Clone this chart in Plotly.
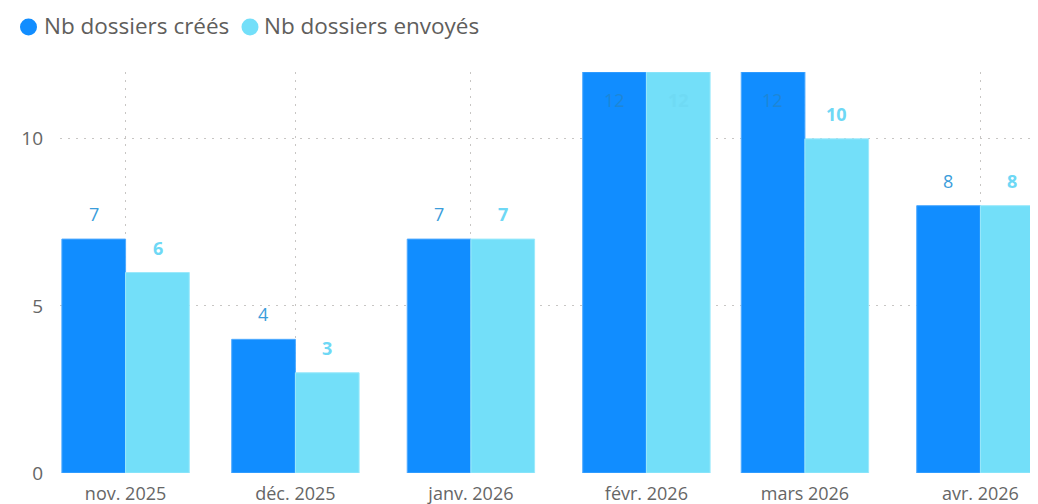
import plotly.graph_objects as go

# donnees
mois = ["2025-11-01", "2025-12-01", "2026-01-01", "2026-02-01", "2026-03-01", "2026-04-01"]
mois_labels = ["nov. 2025", "déc. 2025", "janv. 2026", "févr. 2026", "mars 2026", "avr. 2026"]
crees = [7, 4, 7, 12, 12, 8]
envoyes = [6, 3, 7, 12, 10, 8]
series = ["Nb dossiers créés", "Nb dossiers envoyés"]

BLEU = "#118DFF"
CYAN = "#73DFF9"
Y_MAX = 12
DAY_MS = 86400000
W = 11.25 * DAY_MS  # largeur d'une barre

FONT = "Segoe UI, Open Sans, sans-serif"
GRID = dict(showgrid=True, gridcolor="#C8C6C4", griddash="2px,6px", gridwidth=1)

# zone de trace en pixels (l, t, largeur, hauteur)
L, T, PW, PH = 52, 64, 986, 401


def paper_x(px):
    return (px - L) / PW


def paper_y(py):
    return (T + PH - py) / PH


fig = go.Figure()

fig.add_trace(go.Bar(
    x=mois, y=crees, name=series[0],
    marker=dict(color=BLEU, line=dict(color="#4FAAFF", width=1)),
    width=W, offset=-W, showlegend=False, hoverinfo="skip",
))
fig.add_trace(go.Bar(
    x=mois, y=envoyes, name=series[1],
    marker=dict(color=CYAN, line=dict(color="#9BE9FB", width=1)),
    width=W, offset=0, showlegend=False, hoverinfo="skip",
))

# etiquettes de donnees
annots = []
for d, v in zip(mois, crees):
    inside = v >= Y_MAX
    annots.append(dict(
        x=d, y=v, xref="x", yref="y", text=str(v), showarrow=False,
        xshift=-32, yshift=-28 if inside else 25,
        font=dict(family=FONT, size=18, color="#1E86D6" if inside else "#3B9DDB"),
    ))
for d, v in zip(mois, envoyes):
    inside = v >= Y_MAX
    annots.append(dict(
        x=d, y=v, xref="x", yref="y", text=f"<b>{v}</b>", showarrow=False,
        xshift=32, yshift=-28 if inside else 25,
        font=dict(family=FONT, size=18, color="#6FDAF4" if inside else "#6ED8F5"),
    ))

# legende facon Power BI (pastille ronde + texte)
shapes = []
for nom, col, cx, tx in [(series[0], BLEU, 20.5, 34), (series[1], CYAN, 242, 254)]:
    shapes.append(dict(
        type="circle", xref="paper", yref="paper",
        xsizemode="pixel", ysizemode="pixel",
        xanchor=paper_x(cx), yanchor=paper_y(19),
        x0=-8.5, x1=8.5, y0=-8.5, y1=8.5,
        fillcolor=col, line=dict(width=0),
    ))
    annots.append(dict(
        x=paper_x(tx), y=paper_y(17), xref="paper", yref="paper",
        xanchor="left", yanchor="middle", text=nom, showarrow=False,
        font=dict(family=FONT, size=22.5, color="#605E5C"),
    ))

fig.update_layout(
    width=1038, height=504,
    margin=dict(l=L, r=0, t=T, b=504 - T - PH, autoexpand=False),
    paper_bgcolor="white", plot_bgcolor="white",
    barmode="group",
    showlegend=False,
    font=dict(family=FONT, color="#666666"),
    annotations=annots,
    shapes=shapes,
    xaxis=dict(
        type="date",
        range=["2025-10-20 10:00", "2026-04-12 14:00"],
        tickmode="array", tickvals=mois, ticktext=mois_labels,
        tickfont=dict(family=FONT, size=18, color="#666666"),
        showline=False, zeroline=False, ticks="",
        ticklabelstandoff=8,
        **GRID,
    ),
    yaxis=dict(
        range=[0, Y_MAX], tickvals=[0, 5, 10],
        zeroline=False, showline=False,
        tickfont=dict(family=FONT, size=19, color="#666666"),
        ticklabelstandoff=16,
        **GRID,
    ),
)

fig.write_html("out.html")
